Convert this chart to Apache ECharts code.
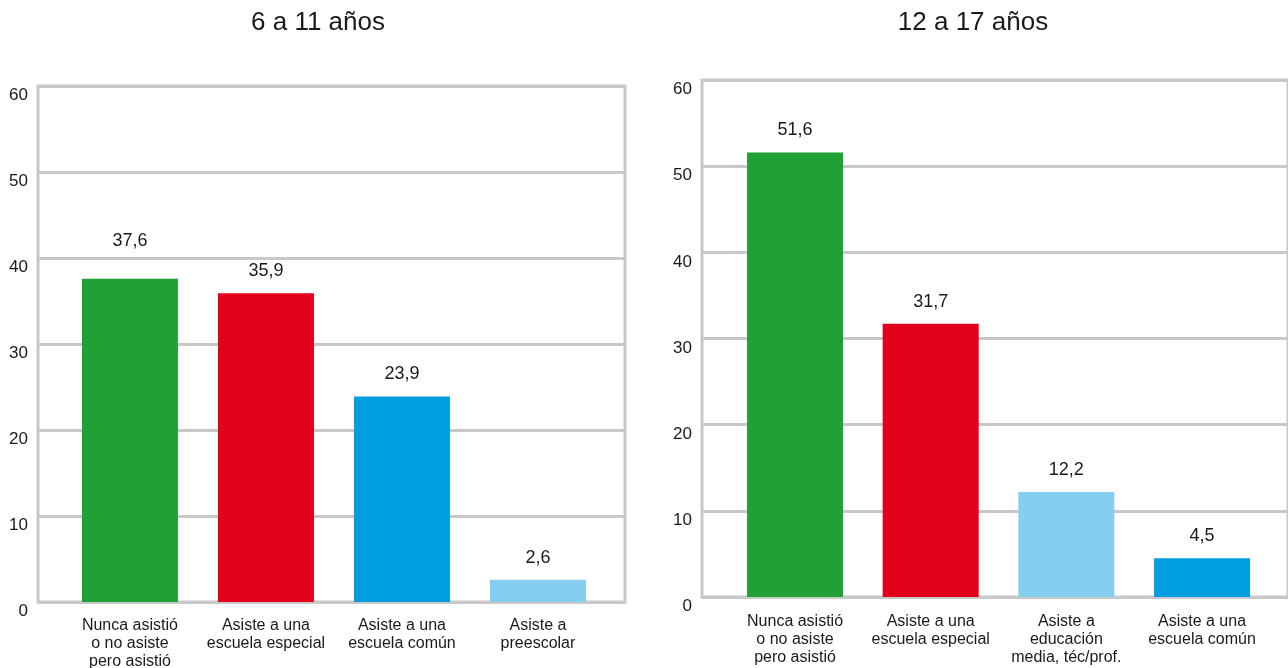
<!DOCTYPE html>
<html>
<head>
<meta charset="utf-8">
<script src="https://cdn.jsdelivr.net/npm/echarts@6/dist/echarts.min.js"></script>
<style>
  html, body { margin: 0; padding: 0; background: #fff; }
  #chart { width: 1288px; height: 668px; }
</style>
</head>
<body>
<div id="chart"></div>
<script>
// Panel titles
const titles = ['6 a 11 años', '12 a 17 años'];

// 6 a 11 años
const categoriesA = ['Nunca asistió\no no asiste\npero asistió', 'Asiste a una\nescuela especial', 'Asiste a una\nescuela común', 'Asiste a\npreescolar'];
const valuesA = [37.6, 35.9, 23.9, 2.6];
const colorsA = ['#21a133', '#e3001b', '#009de0', '#86cef0'];

// 12 a 17 años
const categoriesB = ['Nunca asistió\no no asiste\npero asistió', 'Asiste a una\nescuela especial', 'Asiste a\neducación\nmedia, téc/prof.', 'Asiste a una\nescuela común'];
const valuesB = [51.6, 31.7, 12.2, 4.5];
const colorsB = ['#21a133', '#e3001b', '#86cef0', '#009de0'];

// Value axis ticks
const yTicks = [0, 10, 20, 30, 40, 50, 60];

const FONT = 'Liberation Sans, Arial, sans-serif';
const TEXT = '#1a1a1a';
const GRID_GRAY = '#c8c8c8';

const fmt = v => v.toFixed(1).replace('.', ',');

function xAxisFor(gridIndex, cats, min, max, margin) {
  return {
    type: 'value',
    gridIndex,
    min, max,
    axisLine: { show: false },
    axisTick: { show: false },
    splitLine: { show: false },
    axisLabel: {
      customValues: cats.map((_, i) => i),
      formatter: v => cats[Math.round(v)] || '',
      fontFamily: FONT,
      fontSize: 16,
      color: TEXT,
      lineHeight: 18,
      margin,
      align: 'center',
      verticalAlign: 'top'
    }
  };
}

function yAxisFor(gridIndex) {
  return {
    type: 'value',
    gridIndex,
    min: yTicks[0],
    max: yTicks[yTicks.length - 1],
    interval: 10,
    axisLine: { show: false },
    axisTick: { show: false },
    axisLabel: { fontFamily: FONT, fontSize: 17, color: TEXT, margin: 10, verticalAlign: 'top', padding: [1, 0, 0, 0] },
    splitLine: { lineStyle: { color: GRID_GRAY, width: 3 } }
  };
}

// labels that would sit on a grid line are lifted clear of it
function seriesFor(idx, values, colors, lifted) {
  return {
    type: 'bar',
    xAxisIndex: idx,
    yAxisIndex: idx,
    barWidth: 96,
    data: values.map((v, i) => {
      const item = { value: [i, v], itemStyle: { color: colors[i] } };
      if (lifted.includes(i)) item.label = { distance: 29 };
      return item;
    }),
    label: {
      show: true,
      position: 'top',
      distance: 13,
      fontFamily: FONT,
      fontSize: 18,
      color: TEXT,
      formatter: p => fmt(p.value[1])
    }
  };
}

const gridBase = {
  show: true,
  borderColor: GRID_GRAY,
  borderWidth: 3,
  backgroundColor: 'transparent',
  containLabel: false,
  outerBoundsMode: 'none'
};

const chart = echarts.init(document.getElementById('chart'), null, { renderer: 'canvas' });
chart.setOption({
  animation: false,
  backgroundColor: '#ffffff',
  title: [
    { text: titles[0], left: 313, top: 5, textAlign: 'center',
      textStyle: { fontFamily: FONT, fontSize: 26, fontWeight: 'normal', color: TEXT } },
    { text: titles[1], left: 968, top: 5, textAlign: 'center',
      textStyle: { fontFamily: FONT, fontSize: 26, fontWeight: 'normal', color: TEXT } }
  ],
  grid: [
    Object.assign({ left: 38, top: 86, width: 587, height: 516 }, gridBase),
    Object.assign({ left: 702, top: 80, width: 586, height: 517 }, gridBase)
  ],
  xAxis: [
    xAxisFor(0, categoriesA, -0.676, 3.640, 15),
    xAxisFor(1, categoriesB, -0.686, 3.634, 16)
  ],
  yAxis: [yAxisFor(0), yAxisFor(1)],
  series: [
    seriesFor(0, valuesA, colorsA, [0]),
    seriesFor(1, valuesB, colorsB, [])
  ]
});
</script>
</body>
</html>
